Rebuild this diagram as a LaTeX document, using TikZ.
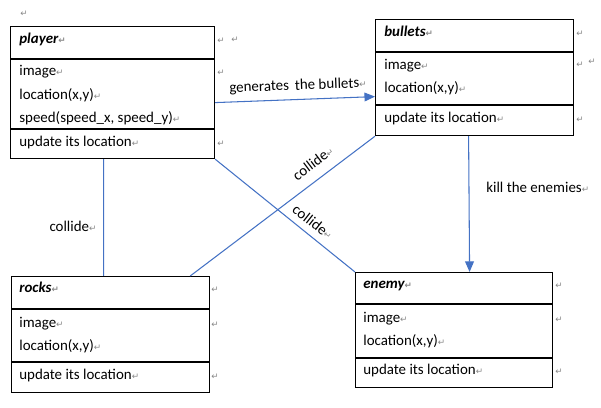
\documentclass[tikz,border=0pt]{standalone}
\usepackage{fontspec}
\setmainfont{Carlito}
\newfontfamily\markfont{DejaVu Sans}
\usetikzlibrary{arrows.meta}
\definecolor{wordblue}{RGB}{68,114,196}
\definecolor{markgray}{RGB}{135,135,135}
% Word paragraph mark
\newcommand{\pmark}{{\markfont\fontsize{5}{5}\selectfont\textcolor{markgray}{↵}}}

\begin{document}
\begin{tikzpicture}[
    x=0.02cm, y=-0.02cm,
    % estilos
    classbox/.style={rectangle, draw=black, line width=0.7pt, inner sep=0pt, anchor=north west},
    divider/.style={-, line width=0.7pt, draw=black},
    member/.style={anchor=base west, inner sep=0pt, font=\fontsize{8.5}{10}\selectfont},
    title/.style={member, font=\fontsize{8.5}{10}\selectfont\bfseries\itshape},
    texto/.style={inner sep=0pt, font=\fontsize{8.5}{10}\selectfont, text=black},
    rowmark/.style={anchor=base west, inner sep=0pt},
    line/.style={-, line width=0.6pt, draw=wordblue},
    arrow/.style={-{Triangle[width=5pt,length=6pt]}, line width=0.6pt, draw=wordblue}
]
\useasboundingbox (0,0) rectangle (601,408);

% --- PLAYER ---
\node[classbox, minimum width=4.08cm, minimum height=2.64cm] (player) at (10,26) {};
\draw[divider] ([yshift=-0.66cm]player.north west) -- ([yshift=-0.66cm]player.north east);
\draw[divider] ([yshift=-2.06cm]player.north west) -- ([yshift=-2.06cm]player.north east);
\node[title] (playername) at (19,44) {player\pmark};
\node[member] (playerimg) at (19,76) {image\pmark};
\node[member] (playerloc) at (19,100) {location(x,y)\pmark};
\node[member] (playerspd) at (19,123) {speed(speed\_x, speed\_y)\pmark};
\node[member] (playerupd) at (19,147) {update its location\pmark};

% --- BULLETS ---
\node[classbox, minimum width=3.96cm, minimum height=2.32cm] (bullets) at (375,19) {};
\draw[divider] ([yshift=-0.66cm]bullets.north west) -- ([yshift=-0.66cm]bullets.north east);
\draw[divider] ([yshift=-1.72cm]bullets.north west) -- ([yshift=-1.72cm]bullets.north east);
\node[title] (bulletsname) at (384,37) {bullets\pmark};
\node[member] (bulletsimg) at (384,70) {image\pmark};
\node[member] (bulletsloc) at (384,93) {location(x,y)\pmark};
\node[member] (bulletsupd) at (384,123) {update its location\pmark};

% --- ROCKS ---
\node[classbox, minimum width=3.96cm, minimum height=2.32cm] (rocks) at (11,276) {};
\draw[divider] ([yshift=-0.66cm]rocks.north west) -- ([yshift=-0.66cm]rocks.north east);
\draw[divider] ([yshift=-1.72cm]rocks.north west) -- ([yshift=-1.72cm]rocks.north east);
\node[title] (rocksname) at (19,293) {rocks\pmark};
\node[member] (rocksimg) at (19,327) {image\pmark};
\node[member] (rocksloc) at (19,350) {location(x,y)\pmark};
\node[member] (rocksupd) at (19,379) {update its location\pmark};

% --- ENEMY ---
\node[classbox, minimum width=3.94cm, minimum height=2.30cm] (enemy) at (355,272) {};
\draw[divider] ([yshift=-0.64cm]enemy.north west) -- ([yshift=-0.64cm]enemy.north east);
\draw[divider] ([yshift=-1.72cm]enemy.north west) -- ([yshift=-1.72cm]enemy.north east);
\node[title] (enemyname) at (363,289) {enemy\pmark};
\node[member] (enemyimg) at (363,322) {image\pmark};
\node[member] (enemyloc) at (363,345) {location(x,y)\pmark};
\node[member] (enemyupd) at (363,374) {update its location\pmark};

% marcas de fila
\node[rowmark] (m0) at (20,17) {\pmark};
\foreach \y [count=\i] in {44,76,147} \node[rowmark] (mp\i) at (217,\y) {\pmark};
\node[rowmark] (mp4) at (231,43) {\pmark};
\foreach \y [count=\i] in {37,68,123} \node[rowmark] (mb\i) at (576,\y) {\pmark};
\node[rowmark] (mb4) at (588,65) {\pmark};
\foreach \y [count=\i] in {293,327,379} \node[rowmark] (mr\i) at (211,\y) {\pmark};
\foreach \y [count=\i] in {289,322,374} \node[rowmark] (me\i) at (555,\y) {\pmark};

% --- CONEXIONES ---
\draw[arrow] ([yshift=-0.2cm]player.east) -- ([yshift=-0.38cm]bullets.west);
\node[texto, rotate=2] (gentext) at (298,86) {generates\, the bullets\pmark};

\draw[arrow] ([xshift=-0.12cm]bullets.south) -- ([xshift=0.31cm]enemy.north);
\node[texto, anchor=west] (killtext) at (486,187) {kill the enemies\pmark};

\draw[line] ([xshift=-0.18cm]player.south) -- ([xshift=-0.14cm]rocks.north);
\node[texto] (collide1) at (73,226) {collide\pmark};

\draw[line] (player.south east) -- (enemy.north west);
\node[texto, rotate=-38] (collide2) at (313,222) {collide\pmark};

\draw[line] (bullets.south west) -- ([xshift=-0.4cm]rocks.north east);
\node[texto, rotate=37] (collide3) at (313,163) {collide\pmark};

\end{tikzpicture}
\end{document}
